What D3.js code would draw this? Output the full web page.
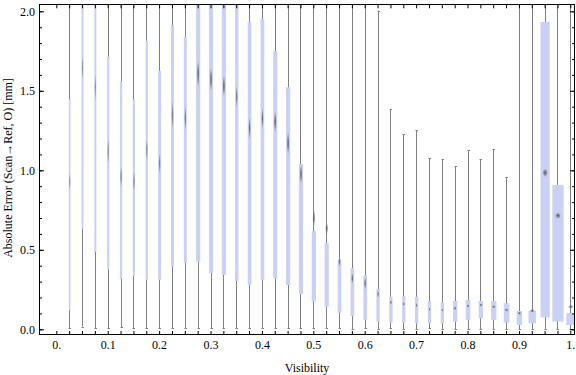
<!DOCTYPE html>
<html><head><meta charset="utf-8">
<script src="https://cdn.jsdelivr.net/npm/d3@7"></script>
<style>html,body{margin:0;padding:0;background:#fff;}svg{display:block;}</style>
</head><body>
<svg id="chart" width="576" height="375"></svg>
<script>
// ---- data ----
const visibility = [0.025,0.05,0.075,0.1,0.125,0.15,0.175,0.2,0.225,0.25,0.275,0.3,0.325,0.35,0.375,0.4,0.425,0.45,0.475,0.5,0.525,0.55,0.575,0.6,0.625,0.65,0.675,0.7,0.725,0.75,0.775,0.8,0.825,0.85,0.875,0.9,0.925,0.95,0.975,1.0];
const whiskerLow = [0.006,0.017,0.006,0.006,0.013,0.006,0.006,0.006,0.006,0.006,0.006,0.006,0.006,0.006,0.006,0.006,0.006,0.006,0.006,0.006,0.006,0.006,0.002,0.006,0.002,0.006,0.002,0.002,0.006,0.002,0.002,0.002,0.002,0.002,0.002,0.002,0.002,0.002,0.002,0.002];
const q1 = [0.121,0.629,0.488,0.377,0.318,0.335,0.310,0.310,0.394,0.419,0.425,0.352,0.342,0.304,0.279,0.310,0.321,0.279,0.222,0.174,0.142,0.104,0.084,0.058,0.048,0.042,0.042,0.038,0.038,0.038,0.048,0.058,0.069,0.058,0.042,0.027,0.038,0.075,0.048,0.027];
const meanVal = [0.93,1.645,1.52,1.12,0.96,0.93,1.128,1.044,1.348,1.327,1.606,1.572,1.530,1.463,1.264,1.327,1.306,1.170,0.977,0.700,0.635,0.425,0.321,0.289,0.222,0.170,0.159,0.151,0.126,0.121,0.132,0.147,0.153,0.142,0.121,0.101,0.117,0.985,0.715,0.142];
const q3 = [1.447,2.20,2.15,1.715,1.557,1.447,1.815,1.626,1.908,1.840,2.15,2.15,2.10,2.10,1.935,1.952,1.750,1.522,1.040,0.618,0.541,0.442,0.384,0.340,0.253,0.205,0.209,0.205,0.178,0.170,0.178,0.184,0.178,0.178,0.164,0.115,0.117,1.933,0.908,0.101];
const whiskerHigh = [2.9,3.4,3.2,3.0,2.8,2.9,3.1,3.0,3.2,3.1,3.3,3.3,3.2,3.1,3.0,3.0,2.9,2.8,2.6,2.5,2.4,2.3,2.3,2.2,2.004,1.384,1.226,1.251,1.075,1.069,1.027,1.126,1.069,1.132,0.956,2.3,2.4,3.0,2.8,2.2];
const meanSpread = [0.06,0.085,0.094,0.085,0.073,0.073,0.073,0.068,0.094,0.079,0.088,0.079,0.073,0.073,0.073,0.068,0.073,0.073,0.063,0.058,0.042,0.031,0.037,0.042,0.025,0.016,0.014,0.014,0.01,0.01,0.01,0.01,0.01,0.01,0.01,0.008,0.008,0.028,0.022,0.012];
const boxWeight = [17,20,20,22,23,23,23,30,30,30,42,42,42,34,37,37,42,42,42,42,42,37,37,37,33,33,33,33,33,33,43,46,43,53,57,53,75,93,113,90];
const xTicksMinor = d3.range(0, 41).map(i => +(i * 0.025).toFixed(3));
const xTickLabels = [0,0.1,0.2,0.3,0.4,0.5,0.6,0.7,0.8,0.9,1.0];
const yTicksMajor = [0,0.5,1.0,1.5,2.0];
const yTicksMinor = d3.range(0, 21).map(i => +(i * 0.1).toFixed(2));

const rows = visibility.map((v, i) => ({v, lo: whiskerLow[i], q1: q1[i], m: meanVal[i], q3: q3[i], hi: whiskerHigh[i], s: meanSpread[i], w: boxWeight[i]}));

// ---- layout ----
const L = 39, R = 575, T = 4.3, B = 335;
const svg = d3.select("#chart");
const x = d3.scaleLinear().domain([-0.0337, 1.0091]).range([L, R]);
const y = d3.scaleLinear().domain([-0.0358, 2.044]).range([B, T]);
const wScale = d3.scaleLinear().domain([0, 113]).range([0, 11.3]);

const defs = svg.append("defs");
defs.append("clipPath").attr("id", "clip").append("rect")
  .attr("x", L).attr("y", T).attr("width", R - L).attr("height", B - T);
const grad = defs.append("radialGradient").attr("id", "mgrad");
grad.append("stop").attr("offset", "0%").attr("stop-color", "#555555").attr("stop-opacity", 0.95);
grad.append("stop").attr("offset", "50%").attr("stop-color", "#707070").attr("stop-opacity", 0.65);
grad.append("stop").attr("offset", "100%").attr("stop-color", "#a0a0b0").attr("stop-opacity", 0);

const g = svg.append("g").attr("clip-path", "url(#clip)");
const whiskerColor = "#7f7f7f";
const boxColor = "#cbd1f4";

// whiskers
g.selectAll("line.wh").data(rows).join("line").attr("class", "wh")
  .attr("x1", d => Math.round(x(d.v)) + 0.5).attr("x2", d => Math.round(x(d.v)) + 0.5)
  .attr("y1", d => y(d.lo)).attr("y2", d => y(d.hi))
  .attr("stroke", whiskerColor).attr("stroke-width", 1);
// caps
const caps = [];
rows.forEach(d => { caps.push({v: d.v, val: d.lo}); caps.push({v: d.v, val: d.hi}); });
g.selectAll("line.cap").data(caps).join("line").attr("class", "cap")
  .attr("x1", d => Math.round(x(d.v)) - 0.5).attr("x2", d => Math.round(x(d.v)) + 2)
  .attr("y1", d => Math.round(y(d.val)) + 0.5).attr("y2", d => Math.round(y(d.val)) + 0.5)
  .attr("stroke", whiskerColor).attr("stroke-width", 1);
// boxes
g.selectAll("rect.box").data(rows).join("rect").attr("class", "box")
  .attr("x", d => x(d.v) + 0.5 - wScale(d.w) / 2).attr("width", d => wScale(d.w))
  .attr("y", d => y(d.q3)).attr("height", d => y(d.q1) - y(d.q3))
  .attr("fill", boxColor);
// mean markers
g.selectAll("ellipse.mk").data(rows).join("ellipse").attr("class", "mk")
  .attr("cx", d => x(d.v) + 0.5).attr("cy", d => y(d.m))
  .attr("rx", d => Math.max(1.2, Math.min(3, wScale(d.w) * 0.35)))
  .attr("ry", d => Math.max(1.8, y(0) - y(d.s)))
  .attr("fill", "url(#mgrad)")
  .attr("opacity", d => Math.min(1, 0.2 + wScale(d.w) / 5));

// ---- axes ----
const font = "'Liberation Serif', 'Times New Roman', serif";
const fmtX = d => d === 0 ? "0." : (d === 1 ? "1." : d3.format(".1f")(d));
function style(sel) {
  sel.select(".domain").remove();
  sel.selectAll("line").attr("stroke", "#000");
  sel.selectAll("text").attr("font-family", font).attr("font-size", 12).attr("fill", "#000");
}
svg.append("g").attr("transform", `translate(0,${B})`)
  .call(d3.axisBottom(x).tickValues(xTicksMinor).tickSize(-4).tickFormat("")).call(style);
svg.append("g").attr("transform", `translate(0,${B})`)
  .call(d3.axisBottom(x).tickValues(xTickLabels).tickSize(0).tickPadding(5.5).tickFormat(fmtX)).call(style);
svg.append("g").attr("transform", `translate(0,${T})`)
  .call(d3.axisTop(x).tickValues(xTicksMinor).tickSize(-4).tickFormat("")).call(style);
svg.append("g").attr("transform", `translate(${L},0)`)
  .call(d3.axisLeft(y).tickValues(yTicksMinor).tickSize(-3).tickFormat("")).call(style);
svg.append("g").attr("transform", `translate(${L},0)`)
  .call(d3.axisLeft(y).tickValues(yTicksMajor).tickSize(-5).tickPadding(4).tickFormat(d3.format(".1f"))).call(style);
svg.append("g").attr("transform", `translate(${R},0)`)
  .call(d3.axisRight(y).tickValues(yTicksMinor).tickSize(-3).tickFormat("")).call(style);
svg.append("g").attr("transform", `translate(${R},0)`)
  .call(d3.axisRight(y).tickValues(yTicksMajor).tickSize(-5).tickFormat("")).call(style);

// frame
svg.append("rect").attr("x", L + 0.5).attr("y", T + 0.2).attr("width", R - L - 1).attr("height", B - T - 0.7)
  .attr("fill", "none").attr("stroke", "#000").attr("stroke-width", 1);

// labels
svg.append("text").attr("x", (L + R) / 2).attr("y", 372).attr("text-anchor", "middle")
  .attr("font-family", font).attr("font-size", 12).text("Visibility");
svg.append("text").attr("transform", `translate(11.5,168) rotate(-90)`).attr("text-anchor", "middle")
  .attr("font-family", font).attr("font-size", 12).text("Absolute Error (Scan→Ref, O) [mm]");
</script>
</body></html>
